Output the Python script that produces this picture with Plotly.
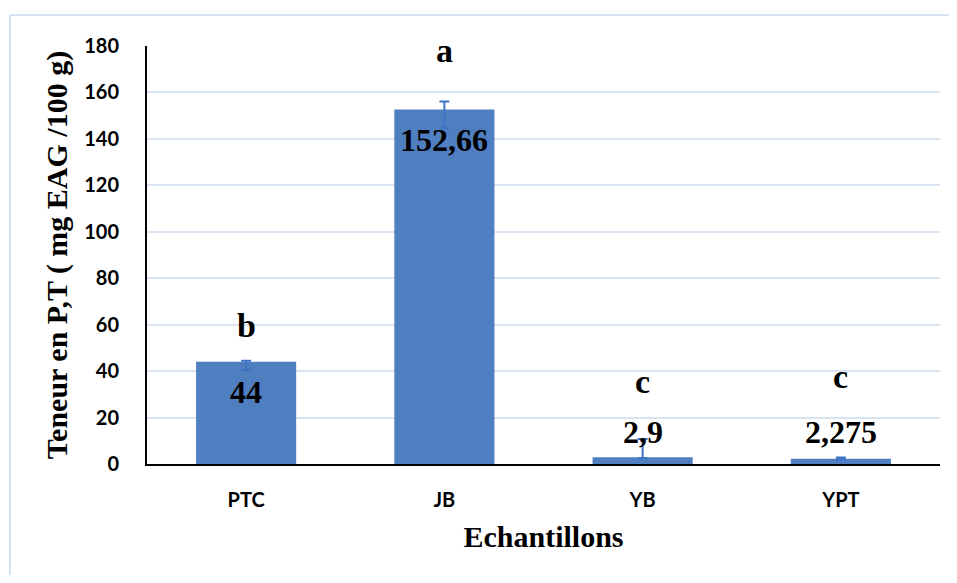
import plotly.graph_objects as go

categories = ["PTC", "JB", "YB", "YPT"]
values = [44, 152.66, 2.9, 2.275]
value_labels = ["44", "152,66", "2,9", "2,275"]
err_plus = [0.5, 3.4, 7.9, 0.5]
err_minus = [3.5, 8.1, 0.4, 0.3]
letters = ["b", "a", "c", "c"]
y_ticks = [0, 20, 40, 60, 80, 100, 120, 140, 160, 180]

# label placement (data units)
letter_y = [59.5, 178, 35.5, 37.5]
value_label_y = [31, 139.5, 13.8, 13.8]

SERIF = "Liberation Serif, Times New Roman, serif"
SANS = "Lato, Open Sans, sans-serif"

fig = go.Figure()
fig.add_trace(go.Bar(
    x=categories, y=values, width=0.505,
    marker=dict(color="#4f7fc1", line=dict(width=0)),
    error_y=dict(type="data", symmetric=False, array=err_plus, arrayminus=err_minus,
                 color="#3d74c6", thickness=2, width=5),
    hoverinfo="skip",
))

annotations = []
for c, l, ly in zip(categories, letters, letter_y):
    annotations.append(dict(x=c, y=ly, text=l, showarrow=False, xref="x", yref="y",
                            font=dict(family=SERIF, size=34, color="black", weight="bold")))
for c, t, ty in zip(categories, value_labels, value_label_y):
    annotations.append(dict(x=c, y=ty, text=t, showarrow=False, xref="x", yref="y",
                            font=dict(family=SERIF, size=32, color="black", weight="bold")))

border = dict(color="#d6e2f3", width=2)
fig.update_layout(
    width=941, height=567, autosize=False,
    margin=dict(l=139, r=9, t=38, b=111),
    paper_bgcolor="white", plot_bgcolor="white",
    showlegend=False,
    annotations=annotations,
    shapes=[
        dict(type="line", xref="paper", yref="paper", x0=-0.1728, x1=1.2, y0=1.074, y1=1.074,
             line=border, layer="below"),
        dict(type="line", xref="paper", yref="paper", x0=-0.1728, x1=-0.1728, y0=-0.5, y1=1.074,
             line=border, layer="below"),
    ],
    xaxis=dict(
        showline=True, linecolor="black", linewidth=2, ticks="",
        tickfont=dict(family=SANS, size=20, color="black", weight="bold"),
        ticklabelstandoff=17,
        title=dict(text="Echantillons", standoff=16,
                   font=dict(family=SERIF, size=30, color="black", weight="bold")),
        showgrid=False, zeroline=False,
    ),
    yaxis=dict(
        range=[0, 180], tickvals=y_ticks, ticktext=[str(v) for v in y_ticks],
        showline=True, linecolor="black", linewidth=2, ticks="",
        tickfont=dict(family=SANS, size=20, color="black", weight="bold"),
        ticklabelstandoff=22,
        showgrid=True, gridcolor="#d9e3f2", gridwidth=2,
        zeroline=False,
        title=dict(text="Teneur en P,T ( mg EAG /100 g)", standoff=8,
                   font=dict(family=SERIF, size=30, color="black", weight="bold")),
    ),
)

fig.write_html("out.html")
